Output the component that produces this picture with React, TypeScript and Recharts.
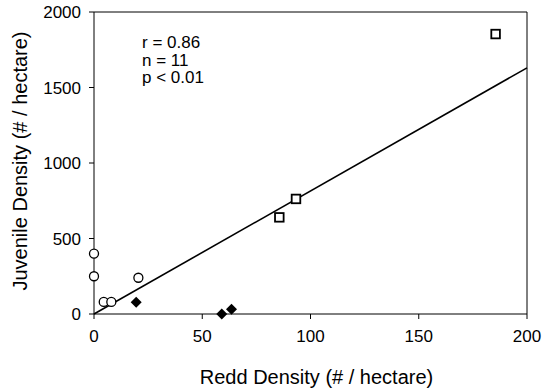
import React from "react";
import {
  ScatterChart,
  Scatter,
  XAxis,
  YAxis,
  ReferenceLine,
  Label,
  Customized,
} from "recharts";

// open circles
const openCircles = [
  { x: 0, y: 400 },
  { x: 0, y: 250 },
  { x: 4.5, y: 80 },
  { x: 8, y: 80 },
  { x: 20.5, y: 240 },
];

// filled diamonds
const filledDiamonds = [
  { x: 19.5, y: 77 },
  { x: 59, y: 0 },
  { x: 63.5, y: 31 },
];

// open squares
const openSquares = [
  { x: 85.6, y: 640 },
  { x: 93.3, y: 762 },
  { x: 185.5, y: 1854 },
];

// regression line
const fitLine = [
  { x: 0, y: 0 },
  { x: 200, y: 1630 },
];

const xTicks = [0, 50, 100, 150, 200];
const yTicks = [0, 500, 1000, 1500, 2000];
const statsLines = ["r = 0.86", "n = 11", "p < 0.01"];

const FONT = "'Liberation Sans', Arial, sans-serif";

const CircleShape = (props: any) => (
  <circle cx={props.cx} cy={props.cy} r={4.5} fill="#fff" stroke="#000" strokeWidth={1.3} />
);

const DiamondShape = (props: any) => {
  const { cx, cy } = props;
  const s = 5.5;
  return (
    <polygon
      points={`${cx},${cy - s} ${cx + s},${cy} ${cx},${cy + s} ${cx - s},${cy}`}
      fill="#000"
    />
  );
};

const SquareShape = (props: any) => (
  <rect
    x={props.cx - 4.3}
    y={props.cy - 4.3}
    width={8.6}
    height={8.6}
    fill="#fff"
    stroke="#000"
    strokeWidth={1.8}
  />
);

const NoShape = () => null;

const StatsText = () => (
  <text x={142} y={48} fontSize={17} fill="#000" fontFamily={FONT}>
    {statsLines.map((t, i) => (
      <tspan key={t} x={142} dy={i === 0 ? 0 : 17.6}>
        {t}
      </tspan>
    ))}
  </text>
);

const YTitle = () => (
  <text
    transform="translate(27,161) rotate(-90)"
    textAnchor="middle"
    fontSize={20}
    fill="#000"
    fontFamily={FONT}
  >
    Juvenile Density (# / hectare)
  </text>
);

export default function App() {
  return (
    <div style={{ position: "absolute", left: 0, top: 0, fontFamily: FONT, background: "#fff" }}>
      <ScatterChart
        width={549}
        height={389}
        margin={{ top: 12, right: 22, bottom: 0, left: 0 }}
      >
        <XAxis
          type="number"
          dataKey="x"
          domain={[0, 200]}
          ticks={xTicks}
          height={75}
          tickSize={5}
          tickMargin={11}
          stroke="#000"
          tick={{ fill: "#000", fontSize: 17 }}
        >
          <Label
            value="Redd Density (# / hectare)"
            position="insideBottom"
            offset={5}
            dx={6}
            style={{ fontSize: 20, fill: "#000" }}
          />
        </XAxis>
        <YAxis
          type="number"
          dataKey="y"
          domain={[0, 2000]}
          ticks={yTicks}
          width={94}
          tickSize={5}
          tickMargin={8}
          stroke="#000"
          tick={{ fill: "#000", fontSize: 17 }}
        />
        <ReferenceLine y={2000} stroke="#000" strokeWidth={1} />
        <ReferenceLine x={200} stroke="#000" strokeWidth={1} />
        <Scatter
          data={fitLine}
          line={{ stroke: "#000", strokeWidth: 1.6 }}
          shape={NoShape}
          isAnimationActive={false}
        />
        <Scatter data={openCircles} shape={CircleShape} isAnimationActive={false} />
        <Scatter data={filledDiamonds} shape={DiamondShape} isAnimationActive={false} />
        <Scatter data={openSquares} shape={SquareShape} isAnimationActive={false} />
        <Customized component={StatsText} />
        <Customized component={YTitle} />
      </ScatterChart>
    </div>
  );
}
